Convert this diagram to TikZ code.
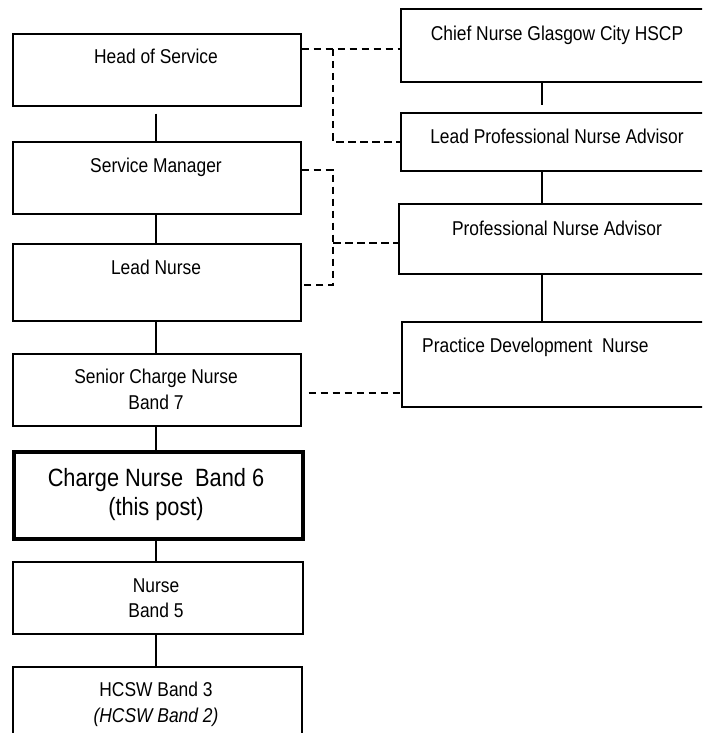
\documentclass[tikz,border=0pt]{standalone}
\usepackage{fontspec}
\setmainfont{Liberation Sans}[FakeStretch=0.87]
\begin{document}
\begin{tikzpicture}[x=1pt,y=-1pt,
  box/.style={draw, line width=1.6pt, rectangle, inner sep=0pt, anchor=north west},
  thickbox/.style={box, line width=4pt},
  txt/.style={inner sep=0pt, anchor=base, font=\fontsize{20}{24}\selectfont},
  bigtxt/.style={inner sep=0pt, anchor=base, font=\fontsize{25}{30}\selectfont},
  link/.style={line width=1.6pt},
  dashlink/.style={line width=1.6pt, dash pattern=on 7.5pt off 4.5pt}]
\useasboundingbox (0,0) rectangle (702,733);
\clip (0,0) rectangle (702,733);
\fill[white] (0,0) rectangle (702,733);
% left column
\node[box, minimum width=288pt, minimum height=72pt] (hos) at (12,33) {};
\node[box, minimum width=288pt, minimum height=72pt] (sm) at (12,141) {};
\node[box, minimum width=288pt, minimum height=77pt] (ln) at (12,243) {};
\node[box, minimum width=288pt, minimum height=72pt] (scn) at (12,353) {};
\node[thickbox, minimum width=289pt, minimum height=87pt] (cn) at (12,450) {};
\node[box, minimum width=290pt, minimum height=72pt] (nurse) at (12,561) {};
\node[box, minimum width=289pt, minimum height=80pt] (hcsw) at (12,666) {};
% right column
\node[box, minimum width=314pt, minimum height=73pt] (chief) at (400,8) {};
\node[box, minimum width=314pt, minimum height=58pt] (lpna) at (400,112) {};
\node[box, minimum width=316pt, minimum height=70pt] (pna) at (398,203) {};
\node[box, minimum width=313pt, minimum height=85pt] (pdn) at (401,321) {};
% texts
\node[txt] (hosT) at (156,64) {Head of Service};
\node[txt] (smT) at (156,172) {Service Manager};
\node[txt] (lnT) at (156,274) {Lead Nurse};
\node[txt] (scnT) at (156,383) {Senior Charge Nurse};
\node[txt] (scnT2) at (156,409) {Band 7};
\node[bigtxt] (cnT) at (156,486) {Charge Nurse\ \ Band 6};
\node[bigtxt] (cnT2) at (156,515) {(this post)};
\node[txt] (nurseT) at (156,592) {Nurse};
\node[txt] (nurseT2) at (156,617) {Band 5};
\node[txt] (hcswT) at (156,696) {HCSW Band 3};
\node[txt] (hcswT2) at (156,722) {\itshape (HCSW Band 2)};
\node[txt] (chiefT) at (557,41) {Chief Nurse Glasgow City HSCP};
\node[txt] (lpnaT) at (557,143) {Lead Professional Nurse Advisor};
\node[txt] (pnaT) at (557,235) {Professional Nurse Advisor};
\node[txt, anchor=base west] (pdnT) at (422,352) {Practice Development\ \ Nurse};
% solid connectors
\coordinate (lc) at (156,0);
\coordinate (rc) at (542,0);
\draw[link, shorten <=7pt] (lc |- hos.south) -- (lc |- sm.north);
\draw[link] (lc |- sm.south) -- (lc |- ln.north);
\draw[link] (lc |- ln.south) -- (lc |- scn.north);
\draw[link] (lc |- scn.south) -- (lc |- cn.north);
\draw[link] (lc |- cn.south) -- (lc |- nurse.north);
\draw[link] (lc |- nurse.south) -- (lc |- hcsw.north);
\draw[link, shorten >=7pt] (rc |- chief.south) -- (rc |- lpna.north);
\draw[link] (rc |- lpna.south) -- (rc |- pna.north);
\draw[link] (rc |- pna.south) -- (rc |- pdn.north);
% dashed connectors
\coordinate (j1) at (333,49);
\coordinate (j2) at (333,170);
\coordinate (j3) at (333,285);
\coordinate (j4) at (333,243);
\coordinate (j5) at (333,393);
\draw[dashlink] (j1 -| hos.east) -- (j1 -| chief.west);
\draw[dashlink] (j1) |- (lpna.west);
\draw[dashlink] (j2 -| sm.east) -- (j2) -- (j3) -- (j3 -| ln.east);
\draw[dashlink] (j4) -- (j4 -| pna.west);
\draw[dashlink] ([xshift=7pt]j5 -| scn.east) -- (j5 -| pdn.west);
\end{tikzpicture}
\end{document}
